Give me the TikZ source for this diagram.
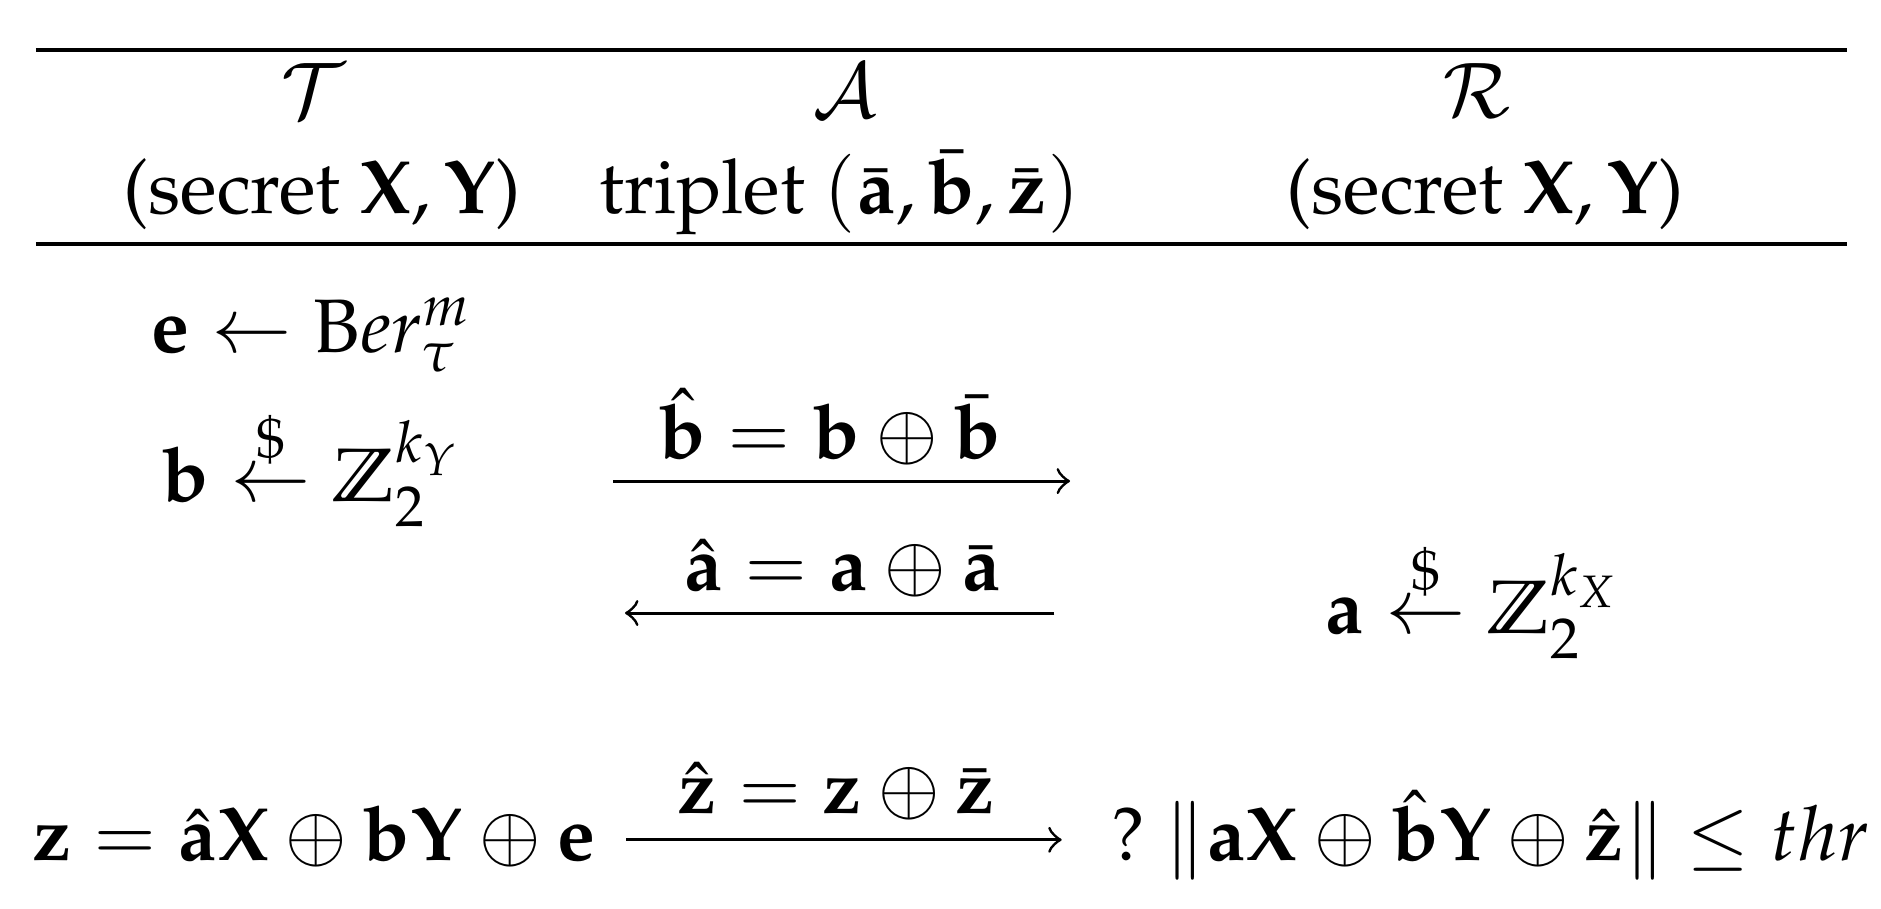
\documentclass[tikz,border=0pt]{standalone}
\usepackage[T1]{fontenc}
\usepackage{mathpazo}
\usepackage{amssymb}
\usepackage{amsmath}
\usepackage{tikz}

\begin{document}
\begin{tikzpicture}[x=0.5703cm, y=-0.5703cm,
  every node/.style={font=\fontsize{10.25pt}{12pt}\selectfont}]
\useasboundingbox (0,0) rectangle (15.68,7.57);
\draw[black, line width=0.55pt] (0.30,0.42) -- (15.40,0.42);%top rule
\draw[black, line width=0.55pt] (0.30,2.03) -- (15.40,2.03);

\node[anchor=base] (T) at (2.61,0.98) {$\mathcal{T}$};
\node[anchor=base] (A) at (7.04,0.98) {$\mathcal{A}$};
\node[anchor=base] (R) at (12.31,0.98) {$\mathcal{R}$};
\node[anchor=base] (Tsec) at (2.685,1.78) {(secret $\mathbf{X}, \mathbf{Y}$)};
\node[anchor=base] (Atrip) at (7.00,1.78) {triplet $(\bar{\mathbf{a}}, \bar{\mathbf{b}}, \bar{\mathbf{z}})$};
\node[anchor=base] (Rsec) at (12.38,1.78) {(secret $\mathbf{X}, \mathbf{Y}$)};

\node[anchor=base] (eber) at (2.60,2.94) {$\mathbf{e} \leftarrow \mathrm{B}er_\tau^m$};
\node[anchor=base] (bsmp) at (2.60,4.18) {$\mathbf{b} \stackrel{\$}{\leftarrow} \mathbb{Z}_2^{k_Y}$};
\node[anchor=base] (asmp) at (12.28,5.28) {$\mathbf{a} \stackrel{\$}{\leftarrow} \mathbb{Z}_2^{k_X}$};

% b hat goes to R
\coordinate (bs) at (5.11,4.01);
\coordinate (be) at (8.92,4.01);
\draw[->] (bs) -- (be);
\node[anchor=base] (bhat) at (6.92,3.82) {$\hat{\mathbf{b}} = \mathbf{b} \oplus \bar{\mathbf{b}}$};

% a hat goes back to T
\coordinate (as) at (8.79,5.11);
\coordinate (ae) at (5.21,5.11);
\draw[->] (as) -- (ae);
\node[anchor=base] (ahat) at (7.02,4.92) {$\hat{\mathbf{a}} = \mathbf{a} \oplus \bar{\mathbf{a}}$};

\node[anchor=base] (zcalc) at (2.62,7.17) {$\mathbf{z} = \hat{\mathbf{a}}\mathbf{X} \oplus \mathbf{b}\mathbf{Y} \oplus \mathbf{e}$};
\node[anchor=base] (check) at (12.42,7.17) {$?\ \|\mathbf{a}\mathbf{X} \oplus \hat{\mathbf{b}}\mathbf{Y} \oplus \hat{\mathbf{z}}\| \leq thr$};
\coordinate (zs) at (5.22,7.00);
\coordinate (ze) at (8.85,7.00);
\draw[->] (zs) -- (ze);
\node[anchor=base] (zhat) at (6.97,6.78) {$\hat{\mathbf{z}} = \mathbf{z} \oplus \bar{\mathbf{z}}$};
\end{tikzpicture}
\end{document}
